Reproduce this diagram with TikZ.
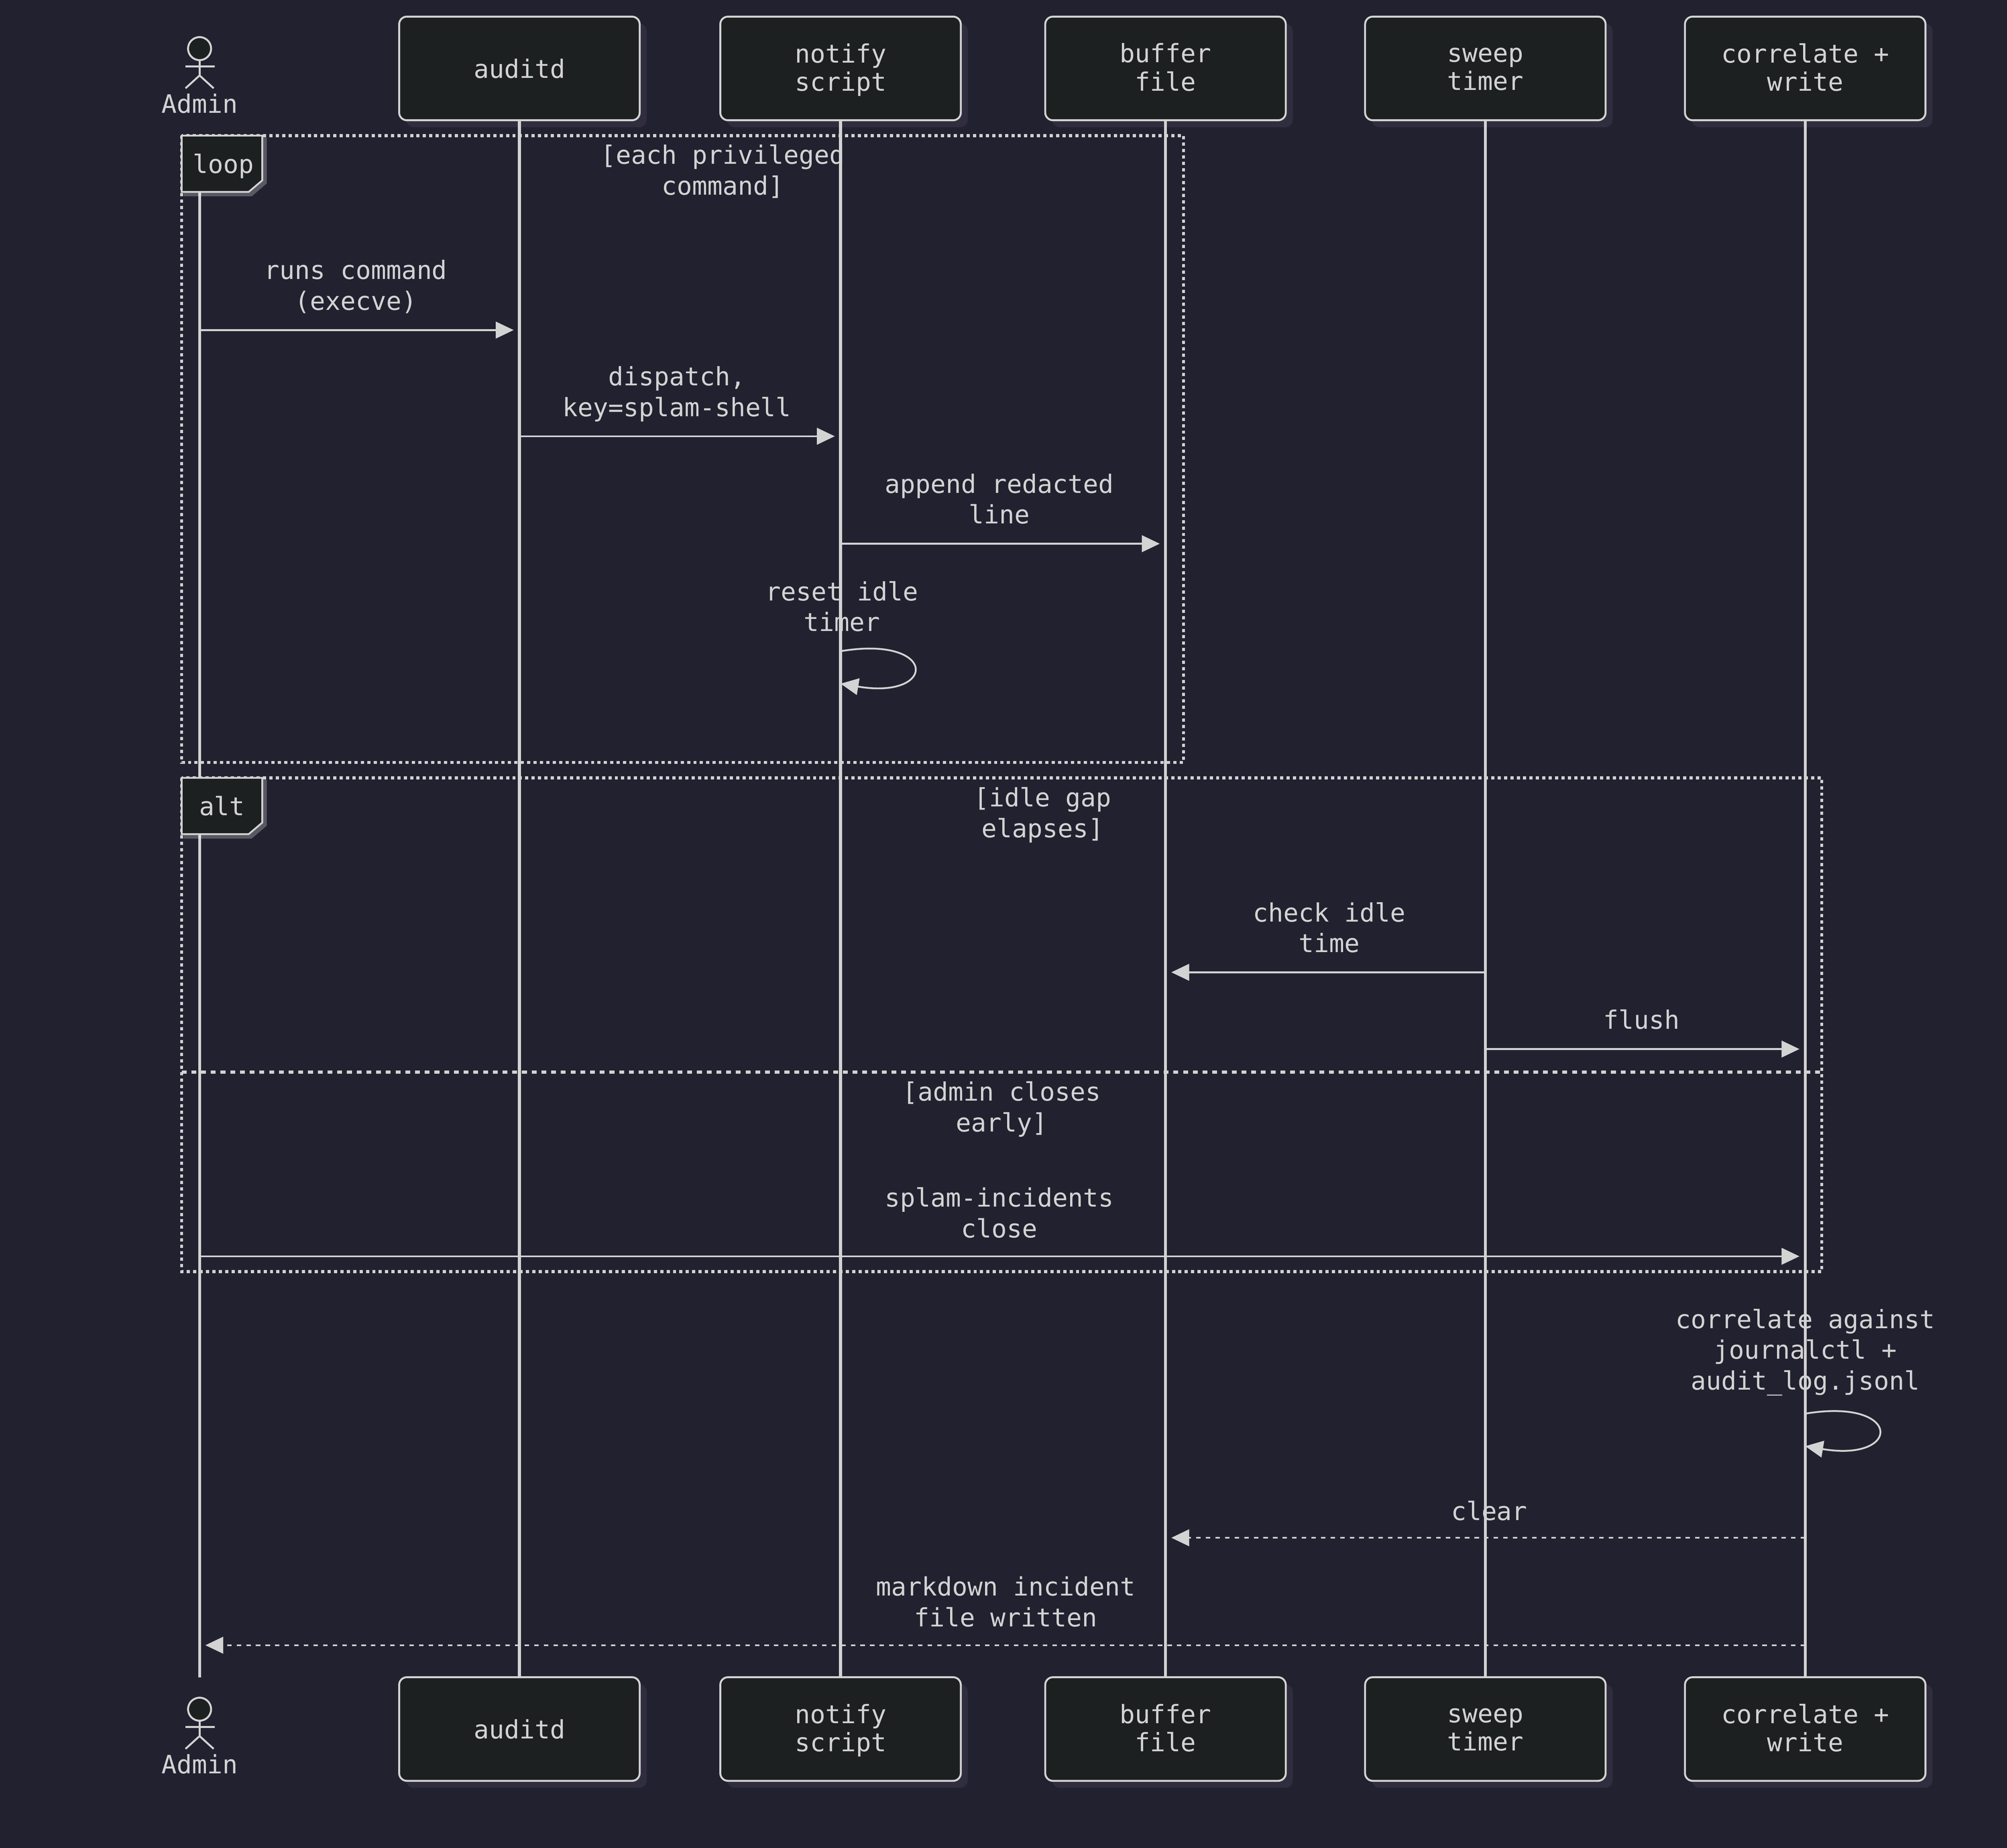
\documentclass[tikz,border=0pt]{standalone}
\usepackage{fontspec}
\setmonofont{DejaVu Sans Mono}
\usetikzlibrary{arrows.meta}
\definecolor{bgdark}{HTML}{222130}
\definecolor{boxfill}{HTML}{1D2021}
\definecolor{inkgray}{HTML}{D3D3D3}
\definecolor{shadowgray}{HTML}{302E3E}
\begin{document}
\begin{tikzpicture}[x=1pt,y=-1pt,
    font=\ttfamily\fontsize{19.8}{24}\selectfont, text=inkgray,
    every node/.style={align=center,inner sep=0pt},
    actorbox/.style={draw=inkgray,line width=1.5pt,fill=boxfill,rounded corners=6pt,
        minimum width=188pt,minimum height=81pt},
    boxtext/.style={font=\ttfamily\fontsize{19.8}{20}\selectfont},
    lifeline/.style={draw=inkgray,line width=2.3pt},
    msg/.style={draw=inkgray,line width=1.4pt,-{Triangle[length=14pt,width=13pt]},shorten >=4.5pt},
    reply/.style={msg,dash pattern=on 3.5pt off 4pt},
    frame/.style={draw=inkgray,line width=2.3pt,dash pattern=on 2.5pt off 2.5pt},
    tagbox/.style={draw=inkgray,line width=1.4pt,fill=boxfill}]
        \useasboundingbox (0,0) rectangle (1568.75,1444.5);
        \fill[bgdark] (0,0) rectangle (1568.75,1444.5);
        %% Participants, top and bottom
        \foreach \nm/\x/\dy/\lbl in {auditd/406/0/auditd, notify/657/2/{\strut notify\\\strut script},
                buffer/911/2/{\strut buffer\\\strut file}, sweep/1161/2/{\strut sweep\\\strut timer},
                corr/1411/2/{\strut correlate +\\\strut write}} {
            \fill[shadowgray,rounded corners=6pt] (\x-88.5,18.5) rectangle ++(188,81);
            \fill[shadowgray,rounded corners=6pt] (\x-88.5,1316.5) rectangle ++(188,81);
            \node[actorbox] (\nm) at (\x,53.5) {};
            \node[actorbox] (\nm b) at (\x,1351.5) {};
            \node[boxtext] (\nm t) at (\x,53.5+\dy) {\lbl};
            \node[boxtext] (\nm bt) at (\x,1351.5+\dy) {\lbl};
        }
        %% Admin actor
        \foreach \yo in {0,1298} {
            \draw[inkgray,line width=1.5pt,fill=boxfill] (156,38+\yo) circle (9);
            \draw[inkgray,line width=1.5pt] (145,52+\yo) -- (168,52+\yo);
            \draw[inkgray,line width=1.5pt] (156,47+\yo) -- (156,59+\yo);
            \draw[inkgray,line width=1.5pt] (145,69+\yo) -- (156,59+\yo) -- (167,69+\yo);
        }
        \node (admin) at (156,81) {Admin};
        \node (admin b) at (156,1379) {Admin};
        \coordinate (admin top) at (156,106);
        \coordinate (admin end) at (156,1311);
        %% Lifelines
        \draw[lifeline] (admin top) -- (admin end);
        \foreach \nm in {auditd,notify,buffer,sweep,corr}
            \draw[lifeline] (\nm.south) -- (\nm b.north);
        %% Loop frame
        \draw[frame] (142,106) rectangle (925,596);
        \draw[white,opacity=0.25,line width=4pt] (143.5,151.5) -- (196,151.5) -- (206.5,142.5) -- (206.5,107.5);
        \draw[tagbox] (142,106) -- (205,106) -- (205,141) -- (194.4,150) -- (142,150) -- cycle;
        \node (loop tag) at (174.5,130.5) {\strut loop};
        \node (loop cond) at (565,134) {[each privileged\\command]};
        %% Alt frame
        \draw[frame] (142,608) rectangle (1424,994);
        \draw[draw=inkgray,line width=2.3pt,dash pattern=on 3.8pt off 3.8pt] (142,838) -- (1424,838);
        \draw[white,opacity=0.25,line width=4pt] (143.5,653.5) -- (196,653.5) -- (206.5,644.5) -- (206.5,609.5);
        \draw[tagbox] (142,608) -- (205,608) -- (205,643) -- (194.4,652) -- (142,652) -- cycle;
        \node (alt tag) at (173.5,632.5) {\strut alt};
        \node (alt cond) at (815,637) {[idle gap\\elapses]};
        \node (else cond) at (783,867) {[admin closes\\early]};
        %% Messages
        \node (l1) at (278,224) {runs command\\(execve)};
        \draw[msg] (admin top |- 0,258) -- (auditd |- 0,258);
        \node (l2) at (529,308) {dispatch,\\key=splam-shell};
        \draw[msg] (auditd |- 0,341) -- (notify |- 0,341);
        \node (l3) at (781,390) {append redacted\\line};
        \draw[msg] (notify |- 0,425) -- (buffer |- 0,425);
        \node (l4) at (658,474) {reset idle\\timer};
        \draw[msg,shorten >=0pt] (notify |- 0,509) .. controls +(76,-12.7) and +(76,12.7) .. (notify |- 0,534.4);
        \node (l5) at (1039,725) {check idle\\time};
        \draw[msg] (sweep |- 0,760) -- (buffer |- 0,760);
        \node (l6) at (1283,797) {flush};
        \draw[msg] (sweep |- 0,820) -- (corr |- 0,820);
        \node (l7) at (781,948) {splam-incidents\\close};
        \draw[msg] (admin top |- 0,982) -- (corr |- 0,982);
        \node (l8) at (1411,1057) {correlate against\\journalctl +\\audit\_log.jsonl};
        \draw[msg,shorten >=0pt] (corr |- 0,1105) .. controls +(76,-12.7) and +(76,12.7) .. (corr |- 0,1130.4);
        \node (l9) at (1164,1181) {clear};
        \draw[reply] (corr |- 0,1202) -- (buffer |- 0,1202);
        \node (l10) at (786,1252) {markdown incident\\file written};
        \draw[reply] (corr |- 0,1286) -- (admin top |- 0,1286);
    \end{tikzpicture}
\end{document}
